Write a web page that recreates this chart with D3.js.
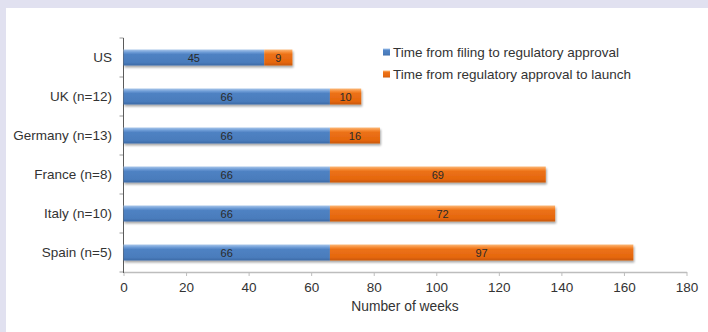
<!DOCTYPE html>
<html>
<head>
<meta charset="utf-8">
<script src="https://cdn.jsdelivr.net/npm/d3@7"></script>
<style>
  html, body { margin: 0; padding: 0; background: #e1e1f0; }
  svg { display: block; font-family: "Liberation Sans", Arial, sans-serif; }
</style>
</head>
<body>
<svg id="chart" width="708" height="332"></svg>
<script>
// Launch timelines by market (weeks)
const countries = ["US", "UK (n=12)", "Germany (n=13)", "France (n=8)", "Italy (n=10)", "Spain (n=5)"];
const filingToApproval = [45, 66, 66, 66, 66, 66];
const approvalToLaunch = [9, 10, 16, 69, 72, 97];
const seriesNames = ["Time from filing to regulatory approval", "Time from regulatory approval to launch"];
const xTicks = [0, 20, 40, 60, 80, 100, 120, 140, 160, 180];

const svg = d3.select("#chart");

// white panel inside the lavender frame
svg.append("rect").attr("x", 6).attr("y", 8).attr("width", 702).attr("height", 324).attr("fill", "#ffffff");

const plotLeft = 123.5, plotRight = 686.5, plotTop = 38, plotBottom = 272;

const x = d3.scaleLinear().domain([0, 180]).range([plotLeft, plotRight]);
const y = d3.scaleBand().domain(countries).range([plotTop, plotBottom]).paddingInner(0).paddingOuter(0);
const barH = 16;

const defs = svg.append("defs");
function grad(id, stops) {
  const g = defs.append("linearGradient").attr("id", id).attr("x1", 0).attr("y1", 0).attr("x2", 0).attr("y2", 1);
  stops.forEach(([o, c]) => g.append("stop").attr("offset", o).attr("stop-color", c));
}
grad("gBlue", [[0, "#a9c6ea"], [0.18, "#6c9bd6"], [0.3, "#4f82c3"], [0.8, "#4a7cbc"], [1, "#3c6aa6"]]);
grad("gOrange", [[0, "#fbb97a"], [0.18, "#f68a33"], [0.3, "#ec7117"], [0.8, "#e5670e"], [1, "#c7560a"]]);
const shadow = defs.append("filter").attr("id", "shadow").attr("x", "-5%").attr("y", "-20%").attr("width", "110%").attr("height", "160%");
shadow.append("feGaussianBlur").attr("in", "SourceAlpha").attr("stdDeviation", 1.2);
shadow.append("feOffset").attr("dx", 1).attr("dy", 1.5).attr("result", "off");
shadow.append("feComponentTransfer").append("feFuncA").attr("type", "linear").attr("slope", 0.35);
const merge = shadow.append("feMerge");
merge.append("feMergeNode");
merge.append("feMergeNode").attr("in", "SourceGraphic");

const xAxisColor = "#bdbdbd";
const yAxisColor = "#5a5a5a";

// x axis
const xAxis = svg.append("g").attr("transform", `translate(0,${plotBottom})`)
  .call(d3.axisBottom(x).tickValues(xTicks).tickSize(4).tickSizeOuter(0).tickPadding(6));
xAxis.select(".domain").attr("stroke", xAxisColor).attr("stroke-width", 1.6);
xAxis.selectAll(".tick line").attr("stroke", xAxisColor);
xAxis.selectAll(".tick text").attr("fill", "#333").attr("font-size", 13.5).attr("font-family", "Liberation Sans, Arial, sans-serif");

// y axis: line with tick marks at band boundaries
const yAxisG = svg.append("g");
const boundaries = countries.map(c => y(c)).concat([plotBottom]);
yAxisG.selectAll("line.tk").data(boundaries).join("line").attr("class", "tk")
  .attr("x1", plotLeft - 4).attr("x2", plotLeft).attr("y1", d => d).attr("y2", d => d)
  .attr("stroke", "#9a9a9a");
yAxisG.append("line").attr("x1", plotLeft).attr("x2", plotLeft).attr("y1", plotTop).attr("y2", plotBottom + 1)
  .attr("stroke", yAxisColor).attr("stroke-width", 1);
yAxisG.selectAll("text").data(countries).join("text")
  .attr("x", 112).attr("y", d => y(d) + y.bandwidth() / 2)
  .attr("dy", "0.36em").attr("text-anchor", "end")
  .attr("font-size", 13.5).attr("fill", "#333").text(d => d);

// stacked bars
const rows = countries.map((c, i) => ({ c, a: filingToApproval[i], b: approvalToLaunch[i] }));
const barG = svg.append("g");
rows.forEach(r => {
  const yc = y(r.c) + y.bandwidth() / 2;
  const segs = [
    { x0: 0, x1: r.a, v: r.a, fill: "url(#gBlue)" },
    { x0: r.a, x1: r.a + r.b, v: r.b, fill: "url(#gOrange)" }
  ];
  const g = barG.append("g").attr("filter", "url(#shadow)");
  g.selectAll("rect").data(segs).join("rect")
    .attr("x", d => x(d.x0)).attr("width", d => x(d.x1) - x(d.x0))
    .attr("y", yc - barH / 2).attr("height", barH)
    .attr("fill", d => d.fill);
  barG.append("g").selectAll("text").data(segs).join("text")
    .attr("x", d => (x(d.x0) + x(d.x1)) / 2).attr("y", yc + 1)
    .attr("dy", "0.36em").attr("text-anchor", "middle")
    .attr("font-size", 11).attr("fill", "#2a2a2a").text(d => d.v);
});

// axis title
svg.append("text").attr("x", (plotLeft + plotRight) / 2).attr("y", 311)
  .attr("text-anchor", "middle").attr("font-size", 13.8).attr("fill", "#333").text("Number of weeks");

// legend
const legend = svg.append("g");
const legFills = ["url(#gBlue)", "url(#gOrange)"];
seriesNames.forEach((n, i) => {
  const ly = 52 + i * 22;
  legend.append("rect").attr("x", 383).attr("y", ly - 3.5).attr("width", 7).attr("height", 7).attr("fill", legFills[i]);
  legend.append("text").attr("x", 393).attr("y", ly).attr("dy", "0.36em")
    .attr("font-size", 13.5).attr("fill", "#333").text(n);
});
</script>
</body>
</html>
